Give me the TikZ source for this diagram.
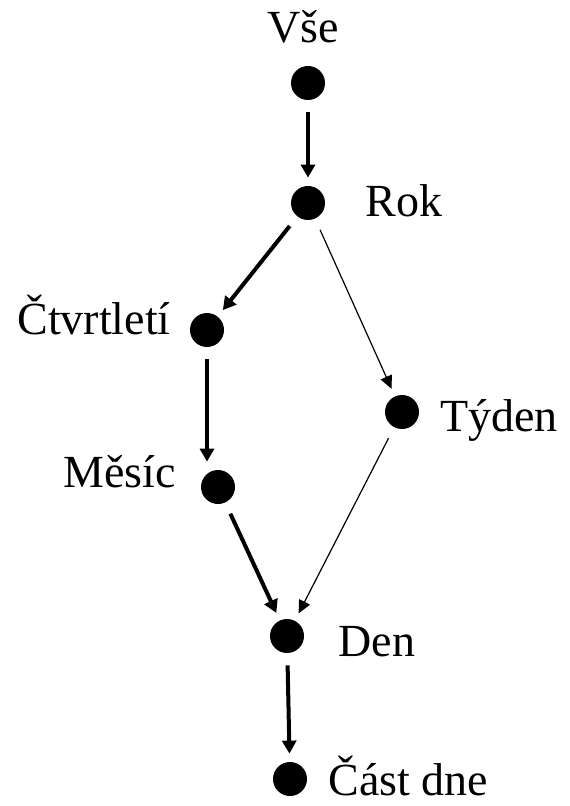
\documentclass[tikz,border=0pt]{standalone}
\usepackage{fontspec}
\setmainfont{Liberation Serif}
\usetikzlibrary{arrows.meta}
\def \DotSize {17pt}
\tikzstyle{dot}=[
  fill=black,
  circle,
  inner sep=0pt,
  minimum size=\DotSize
]
\tikzstyle{lbl}=[
  anchor=base west,
  inner sep=0pt,
  font=\fontsize{23}{27}\selectfont
]
\tikzstyle{strong}=[
  line width=2pt,
  -{Triangle[length=6.5pt,width=7pt]},
  shorten <=6pt,
  shorten >=4pt
]
\tikzstyle{weak}=[
  line width=0.6pt,
  -{Triangle[length=6.5pt,width=6pt]},
  shorten <=6pt,
  shorten >=4pt
]
\begin{document}
\begin{tikzpicture}[x=0.5pt,y=-0.5pt]
          \useasboundingbox (0,0) rectangle (569,806);

          % dots
          \node[dot] (vse) at (308, 83) {};
          \node[dot] (rok) at (308, 203) {};
          \node[dot] (ctvrt) at (207, 330) {};
          \node[dot] (tyden) at (402, 412) {};
          \node[dot] (mesic) at (218, 487) {};
          \node[dot] (den) at (287, 636) {};
          \node[dot] (cast) at (290, 779) {};

          % labels
          \node[lbl] (tvse) at (267, 43) {Vše};
          \node[lbl] (trok) at (365, 217) {Rok};
          \node[lbl] (tctvrt) at (17, 335) {Čtvrtletí};
          \node[lbl] (ttyden) at (440, 431) {Týden};
          \node[lbl] (tmesic) at (63, 487) {Měsíc};
          \node[lbl] (tden) at (338, 656) {Den};
          \node[lbl] (tcast) at (328, 795) {Část dne};

          % strong arrows
          \draw[strong] (vse) -- (rok);
          \draw[strong] (rok) -- (ctvrt);
          \draw[strong] (ctvrt.south) -- (ctvrt.south |- mesic.north);
          \draw[strong] (mesic) -- (den);
          \draw[strong] (den) -- (cast);

          % weak arrows
          \draw[weak] (rok) -- (tyden);
          \draw[weak] (tyden) -- (den);
        \end{tikzpicture}
\end{document}
